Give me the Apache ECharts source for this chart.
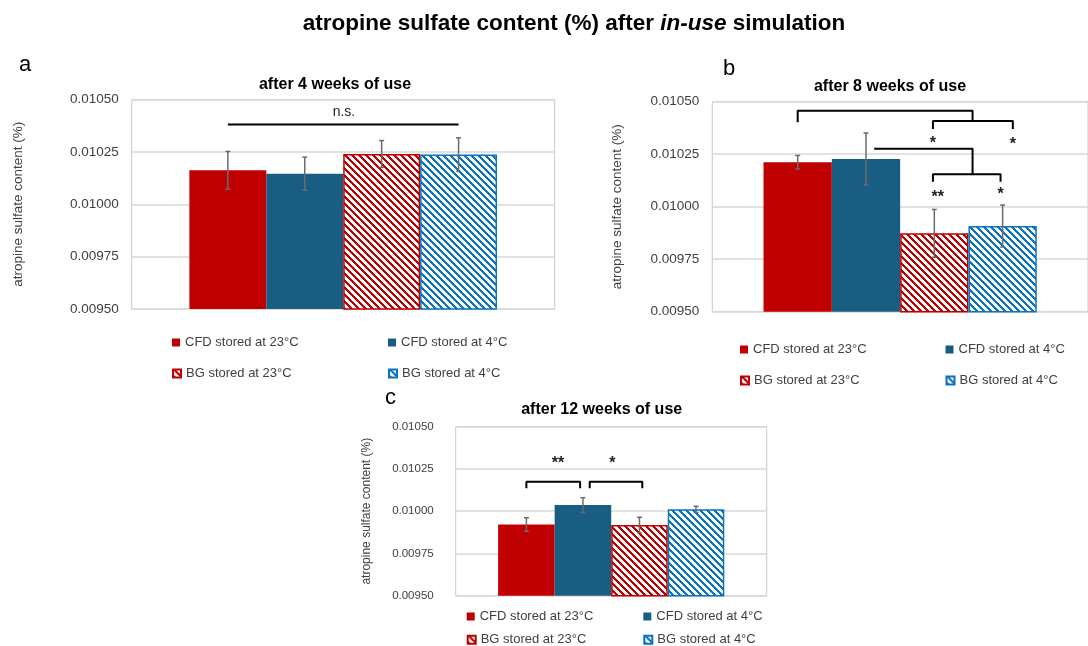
<!DOCTYPE html>
<html>
<head>
<meta charset="utf-8">
<script src="https://cdn.jsdelivr.net/npm/echarts@6/dist/echarts.min.js"></script>
<style>
  html, body { margin: 0; padding: 0; background: #fff; }
  #chart { width: 1088px; height: 646px; }
</style>
</head>
<body>
<div id="chart"></div>
<script>
// ---------------- data ----------------
const panelTitles = ['after 4 weeks of use', 'after 8 weeks of use', 'after 12 weeks of use'];
const seriesNames = ['CFD stored at 23°C', 'CFD stored at 4°C', 'BG stored at 23°C', 'BG stored at 4°C'];
// mean values per panel (4, 8, 12 weeks)
const cfd23 = [0.010162, 0.010212, 0.009921];
const cfd4  = [0.010146, 0.010227, 0.010036];
const bg23  = [0.010240, 0.009873, 0.009918];
const bg4   = [0.010237, 0.009908, 0.010011];
// standard deviations (error bars)
const cfd23Err = [0.000090, 0.000032, 0.000040];
const cfd4Err  = [0.000079, 0.000124, 0.000044];
const bg23Err  = [0.000064, 0.000114, 0.000046];
const bg4Err   = [0.000080, 0.000100, 0.000018];
// y axis ticks
const yMin = 0.0095, yMax = 0.0105, yStep = 0.00025;
// significance annotations (x: bar index 0..3, y: content value)
const bracketsA = [ [[0, 0.010381], [3, 0.010381]] ];
const labelsA   = [ [1.51, 0.010441, 'n.s.'] ];
const bracketsB = [
  [[0, 0.010402], [0, 0.010457], [2.56, 0.010457], [2.56, 0.010408]],
  [[1.98, 0.010370], [1.98, 0.010408], [3.15, 0.010408], [3.15, 0.010370]],
  [[1.12, 0.010276], [2.56, 0.010276], [2.56, 0.010154]],
  [[1.98, 0.010119], [1.98, 0.010154], [2.97, 0.010154], [2.97, 0.010119]]
];
const labelsB = [ [1.98, 0.010314, '*'], [3.15, 0.010308, '*'], [2.05, 0.010060, '**'], [2.97, 0.010071, '*'] ];
const bracketsC = [
  [[0, 0.010136], [0, 0.010175], [0.95, 0.010175], [0.95, 0.010136]],
  [[1.12, 0.010136], [1.12, 0.010175], [2.05, 0.010175], [2.05, 0.010136]]
];
const labelsC = [ [0.56, 0.010297, '**'], [1.52, 0.010297, '*'] ];

// ---------------- styling / layout ----------------
const FONT = 'Liberation Sans';
const RED = '#C00000', TEAL = '#195E82', BLUE = '#0A73C2';

function stripes(color) {
  const s = 7;
  const c = document.createElement('canvas');
  c.width = s; c.height = s;
  const ctx = c.getContext('2d');
  ctx.fillStyle = '#ffffff';
  ctx.fillRect(0, 0, s, s);
  ctx.fillStyle = color;
  for (let y = 0; y < s; y++) {
    for (let x = 0; x < s; x++) {
      const d = ((x - y) % s + s) % s;
      if (d < 3) ctx.fillRect(x, y, 1, 1);
    }
  }
  return { image: c, repeat: 'repeat' };
}

const barStyles = [
  { color: RED },
  { color: TEAL },
  { color: stripes(RED), borderColor: RED, borderWidth: 1.5 },
  { color: stripes(BLUE), borderColor: BLUE, borderWidth: 1.5 }
];

const panels = [
  { grid: { left: 131.7, top: 99.5, width: 423, height: 209.5 }, yFont: 13.5, labelMargin: 13, nameGap: 106, nameFont: 13.5,
    title: { x: 335, y: 76.2 }, letter: { t: 'a', x: 19, y: 54 }, legend: { x1: 172, x2: 388, y1: 343, y2: 374 },
    brackets: bracketsA, labels: labelsA },
  { grid: { left: 712.3, top: 101.7, width: 388, height: 210 }, yFont: 13.5, labelMargin: 13, nameGap: 88, nameFont: 13.5,
    title: { x: 890, y: 79 }, letter: { t: 'b', x: 723, y: 57.5 }, legend: { x1: 740, x2: 945.5, y1: 350, y2: 381.1 },
    brackets: bracketsB, labels: labelsB },
  { grid: { left: 455.7, top: 426.7, width: 311, height: 169 }, yFont: 11.5, labelMargin: 22, nameGap: 83, nameFont: 12,
    title: { x: 601.7, y: 401.2 }, letter: { t: 'c', x: 385, y: 386.7 }, legend: { x1: 466.7, x2: 643.3, y1: 617, y2: 640.3 },
    brackets: bracketsC, labels: labelsC }
];

const values = [cfd23, cfd4, bg23, bg4];
const errs = [cfd23Err, cfd4Err, bg23Err, bg4Err];

const grid = [], xAxis = [], yAxis = [], series = [], legend = [];
const title = [{
  text: '{b|atropine sulfate content (%) after }{i|in-use}{b| simulation}',
  left: 574, top: 12, textAlign: 'center', padding: 0,
  textStyle: { rich: {
    b: { fontFamily: FONT, fontSize: 22.5, fontWeight: 'bold', color: '#000' },
    i: { fontFamily: FONT, fontSize: 22.5, fontWeight: 'bold', fontStyle: 'italic', color: '#000' }
  } }
}];

function legendItem(name, x, yc) {
  return {
    orient: 'horizontal', left: x, top: yc - 7, padding: 0, icon: 'rect',
    itemWidth: 8, itemHeight: 8, selectedMode: false, data: [name],
    textStyle: { fontFamily: FONT, fontSize: 13, color: '#404040' }
  };
}

panels.forEach((p, pi) => {
  grid.push(Object.assign({ show: true, borderColor: '#C9C9C9', borderWidth: 1, backgroundColor: 'transparent', containLabel: false }, p.grid));
  xAxis.push({ type: 'category', gridIndex: pi, data: [panelTitles[pi]], show: false });
  yAxis.push({
    type: 'value', gridIndex: pi, min: yMin, max: yMax, interval: yStep,
    name: 'atropine sulfate content (%)', nameLocation: 'middle', nameGap: p.nameGap,
    nameTextStyle: { fontFamily: FONT, fontSize: p.nameFont, color: '#404040' },
    axisLine: { show: false }, axisTick: { show: false },
    axisLabel: { fontFamily: FONT, fontSize: p.yFont, color: '#404040', margin: p.labelMargin, formatter: v => v.toFixed(5) },
    splitLine: { show: true, lineStyle: { color: '#D9D9D9', width: 1.5 } }
  });
  title.push({ text: panelTitles[pi], left: p.title.x, top: p.title.y, textAlign: 'center', padding: 0,
    textStyle: { fontFamily: FONT, fontSize: 16, fontWeight: 'bold', color: '#000' } });
  title.push({ text: p.letter.t, left: p.letter.x, top: p.letter.y, padding: 0,
    textStyle: { fontFamily: FONT, fontSize: 22, fontWeight: 'normal', color: '#000' } });

  seriesNames.forEach((name, si) => {
    series.push({
      type: 'bar', name: name, xAxisIndex: pi, yAxisIndex: pi,
      data: [values[si][pi]], barGap: '0%', barCategoryGap: '27.27%',
      itemStyle: barStyles[si], silent: true, z: 2
    });
  });
  legend.push(legendItem(seriesNames[0], p.legend.x1, p.legend.y1));
  legend.push(legendItem(seriesNames[1], p.legend.x2, p.legend.y1));
  legend.push(legendItem(seriesNames[2], p.legend.x1, p.legend.y2));
  legend.push(legendItem(seriesNames[3], p.legend.x2, p.legend.y2));
});

// hidden value x-axes for error bars and annotations (bar index coordinates)
panels.forEach((p, pi) => {
  xAxis.push({ type: 'value', gridIndex: pi, min: -1.25, max: 4.25, show: false });
});

panels.forEach((p, pi) => {
  const ax = panels.length + pi;
  const errData = values.map((v, si) => [si, v[pi] - errs[si][pi], v[pi] + errs[si][pi]]);
  series.push({
    type: 'custom', xAxisIndex: ax, yAxisIndex: pi, silent: true, z: 5,
    encode: { x: 0, y: [1, 2] },
    data: errData,
    renderItem: function (params, api) {
      const x = api.value(0);
      const lo = api.coord([x, api.value(1)]);
      const hi = api.coord([x, api.value(2)]);
      const c = 2.5;
      const st = { stroke: '#6B6B6B', lineWidth: 1.5 };
      return { type: 'group', children: [
        { type: 'line', shape: { x1: lo[0], y1: lo[1], x2: hi[0], y2: hi[1] }, style: st },
        { type: 'line', shape: { x1: hi[0] - c, y1: hi[1], x2: hi[0] + c, y2: hi[1] }, style: st },
        { type: 'line', shape: { x1: lo[0] - c, y1: lo[1], x2: lo[0] + c, y2: lo[1] }, style: st }
      ] };
    }
  });
  p.brackets.forEach(b => {
    series.push({
      type: 'line', xAxisIndex: ax, yAxisIndex: pi, data: b, symbol: 'none', silent: true, z: 6,
      lineStyle: { color: '#000', width: 2 }, animation: false
    });
  });
  const labs = p.labels;
  series.push({
    type: 'custom', xAxisIndex: ax, yAxisIndex: pi, silent: true, z: 7,
    encode: { x: 0, y: 1 },
    data: labs.map(l => [l[0], l[1]]),
    renderItem: function (params, api) {
      const pt = api.coord([api.value(0), api.value(1)]);
      const txt = labs[params.dataIndex][2];
      const isNs = txt === 'n.s.';
      return { type: 'text', x: pt[0], y: isNs ? pt[1] : pt[1] + 3, style: {
        text: txt, fill: '#222', font: (isNs ? '14px ' : 'bold 16px ') + FONT,
        align: 'center', verticalAlign: 'middle', textAlign: 'center', textVerticalAlign: 'middle' } };
    }
  });
});

const chart = echarts.init(document.getElementById('chart'), null, { renderer: 'canvas' });
chart.setOption({ animation: false, backgroundColor: '#fff', title, grid, xAxis, yAxis, legend, series });
</script>
</body>
</html>
